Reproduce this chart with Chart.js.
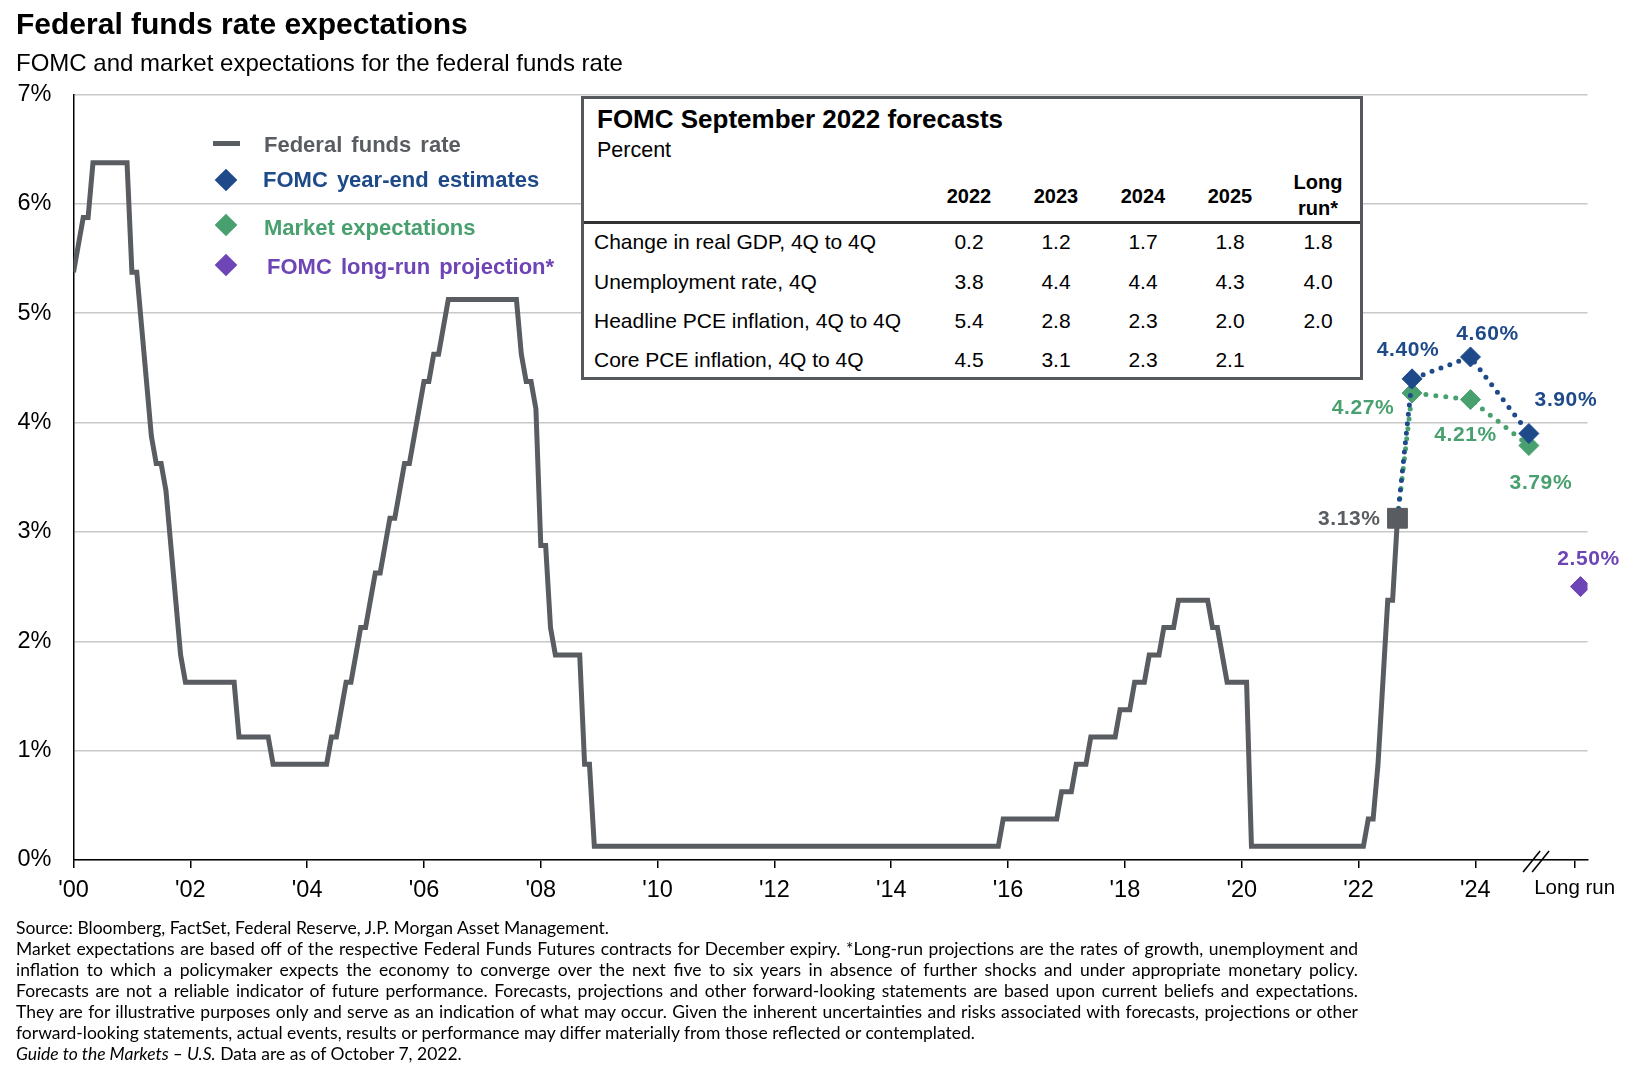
<!DOCTYPE html>
<html>
<head>
<meta charset="utf-8">
<script src="https://cdn.jsdelivr.net/npm/chart.js@4.4.1/dist/chart.umd.min.js"></script>
<style>
  body { margin: 0; background: #fff; font-family: "Liberation Sans", Arial, sans-serif; }
  #wrap { position: relative; width: 1638px; height: 1076px; overflow: hidden; }
  canvas { position: absolute; left: 0; top: 0; }
  .t { position: absolute; white-space: nowrap; }
  .leg { position: absolute; white-space: nowrap; font-weight: bold; font-size: 22px; line-height: 22px; word-spacing: 3px; }
  .dia { position: absolute; width: 16px; height: 16px; transform: rotate(45deg); }
  #table { position: absolute; left: 581px; top: 96px; width: 776px; height: 278px; border: 3px solid #55595d; background: #fff; }
  #table .t { color: #000; }
  .hd { font-weight: bold; font-size: 20px; line-height: 20px; text-align: center; width: 80px; }
  .rl { font-size: 21px; line-height: 21px; }
  .v { font-size: 21px; line-height: 21px; text-align: center; width: 60px; }
  .fn { position: absolute; left: 16px; font-family: Lato, "Liberation Sans", sans-serif; font-size: 17.5px; line-height: 21px; white-space: nowrap; color: #000; }
  .just { width: 1342px; text-align: justify; text-align-last: justify; word-spacing: -1.5px; }
</style>
</head>
<body>
<div id="wrap">
  <canvas id="chart" width="1638" height="1076"></canvas>

  <div class="t" style="left:16px;top:9px;font-size:30px;line-height:30px;font-weight:bold;">Federal funds rate expectations</div>
  <div class="t" style="left:16px;top:51px;font-size:24px;line-height:24px;">FOMC and market expectations for the federal funds rate</div>

  <!-- legend -->
  <div style="position:absolute;left:213px;top:141px;width:27px;height:5px;background:#595c60;"></div>
  <div class="leg" style="left:264px;top:134px;color:#595c60;">Federal funds rate</div>
  <div class="dia" style="left:218px;top:172px;background:#1e4a8a;"></div>
  <div class="leg" style="left:263px;top:169px;color:#1e4a8a;">FOMC year-end estimates</div>
  <div class="dia" style="left:218px;top:217px;background:#48a06f;"></div>
  <div class="leg" style="left:264px;top:217px;color:#48a06f;word-spacing:0;">Market expectations</div>
  <div class="dia" style="left:218px;top:257px;background:#6d45b6;"></div>
  <div class="leg" style="left:267px;top:256px;color:#6d45b6;">FOMC long-run projection*</div>

  <!-- forecast table -->
  <div id="table"></div>

  <!-- footnotes -->
  <div class="fn" style="top:917px;">Source: Bloomberg, FactSet, Federal Reserve, J.P. Morgan Asset Management.</div>
  <div class="fn just" style="top:938px;">Market expectations are based off of the respective Federal Funds Futures contracts for December expiry. *Long-run projections are the rates of growth, unemployment and</div>
  <div class="fn just" style="top:959px;">inflation to which a policymaker expects the economy to converge over the next five to six years in absence of further shocks and under appropriate monetary policy.</div>
  <div class="fn just" style="top:980px;">Forecasts are not a reliable indicator of future performance. Forecasts, projections and other forward-looking statements are based upon current beliefs and expectations.</div>
  <div class="fn just" style="top:1001px;">They are for illustrative purposes only and serve as an indication of what may occur. Given the inherent uncertainties and risks associated with forecasts, projections or other</div>
  <div class="fn" style="top:1022px;">forward-looking statements, actual events, results or performance may differ materially from those reflected or contemplated.</div>
  <div class="fn" style="top:1043px;"><i>Guide to the Markets – U.S.</i> Data are as of October 7, 2022.</div>
</div>

<script>
// Federal funds rate, monthly from Jan 2000 to Sep 2022 (%)
const fedFundsStart = 2000;
const fedFunds = [
  5.375, 5.625, 5.875, 5.875, 6.375, 6.375, 6.375, 6.375, 6.375, 6.375, 6.375, 6.375, // 2000
  5.375, 5.375, 4.875, 4.375, 3.875, 3.625, 3.625, 3.375, 2.875, 2.375, 1.875, 1.625, // 2001
  1.625, 1.625, 1.625, 1.625, 1.625, 1.625, 1.625, 1.625, 1.625, 1.625, 1.125, 1.125, // 2002
  1.125, 1.125, 1.125, 1.125, 1.125, 0.875, 0.875, 0.875, 0.875, 0.875, 0.875, 0.875, // 2003
  0.875, 0.875, 0.875, 0.875, 0.875, 1.125, 1.125, 1.375, 1.625, 1.625, 1.875, 2.125, // 2004
  2.125, 2.375, 2.625, 2.625, 2.875, 3.125, 3.125, 3.375, 3.625, 3.625, 3.875, 4.125, // 2005
  4.375, 4.375, 4.625, 4.625, 4.875, 5.125, 5.125, 5.125, 5.125, 5.125, 5.125, 5.125, // 2006
  5.125, 5.125, 5.125, 5.125, 5.125, 5.125, 5.125, 5.125, 4.625, 4.375, 4.375, 4.125, // 2007
  2.875, 2.875, 2.125, 1.875, 1.875, 1.875, 1.875, 1.875, 1.875, 0.875, 0.875, 0.125, // 2008
  0.125, 0.125, 0.125, 0.125, 0.125, 0.125, 0.125, 0.125, 0.125, 0.125, 0.125, 0.125, // 2009
  0.125, 0.125, 0.125, 0.125, 0.125, 0.125, 0.125, 0.125, 0.125, 0.125, 0.125, 0.125, // 2010
  0.125, 0.125, 0.125, 0.125, 0.125, 0.125, 0.125, 0.125, 0.125, 0.125, 0.125, 0.125, // 2011
  0.125, 0.125, 0.125, 0.125, 0.125, 0.125, 0.125, 0.125, 0.125, 0.125, 0.125, 0.125, // 2012
  0.125, 0.125, 0.125, 0.125, 0.125, 0.125, 0.125, 0.125, 0.125, 0.125, 0.125, 0.125, // 2013
  0.125, 0.125, 0.125, 0.125, 0.125, 0.125, 0.125, 0.125, 0.125, 0.125, 0.125, 0.125, // 2014
  0.125, 0.125, 0.125, 0.125, 0.125, 0.125, 0.125, 0.125, 0.125, 0.125, 0.125, 0.375, // 2015
  0.375, 0.375, 0.375, 0.375, 0.375, 0.375, 0.375, 0.375, 0.375, 0.375, 0.375, 0.625, // 2016
  0.625, 0.625, 0.875, 0.875, 0.875, 1.125, 1.125, 1.125, 1.125, 1.125, 1.125, 1.375, // 2017
  1.375, 1.375, 1.625, 1.625, 1.625, 1.875, 1.875, 1.875, 2.125, 2.125, 2.125, 2.375, // 2018
  2.375, 2.375, 2.375, 2.375, 2.375, 2.375, 2.125, 2.125, 1.875, 1.625, 1.625, 1.625, // 2019
  1.625, 1.625, 0.125, 0.125, 0.125, 0.125, 0.125, 0.125, 0.125, 0.125, 0.125, 0.125, // 2020
  0.125, 0.125, 0.125, 0.125, 0.125, 0.125, 0.125, 0.125, 0.125, 0.125, 0.125, 0.125, // 2021
  0.125, 0.125, 0.375, 0.375, 0.875, 1.625, 2.375, 2.375, 3.125                        // 2022
];

// projections (year-end)
const projYears = [2022, 2023, 2024];
const fomcYearEnd = [4.40, 4.60, 3.90];
const marketExp = [4.27, 4.21, 3.79];
const fomcLongRun = 2.50;

// x axis
const xTickYears = [2000, 2002, 2004, 2006, 2008, 2010, 2012, 2014, 2016, 2018, 2020, 2022, 2024];
const longRunTick = 2025.7;
const longRunX = 2025.8;
const breakX = 2025.04;
const yTicks = [0, 1, 2, 3, 4, 5, 6, 7];

// FOMC table
const tableCols = ['2022', '2023', '2024', '2025', 'Long\nrun*'];
const tableRows = ['Change in real GDP, 4Q to 4Q', 'Unemployment rate, 4Q', 'Headline PCE inflation, 4Q to 4Q', 'Core PCE inflation, 4Q to 4Q'];
const tableVals = [
  ['0.2', '1.2', '1.7', '1.8', '1.8'],
  ['3.8', '4.4', '4.4', '4.3', '4.0'],
  ['5.4', '2.8', '2.3', '2.0', '2.0'],
  ['4.5', '3.1', '2.3', '2.1', '']
];

// build table
(function () {
  const tb = document.getElementById('table');
  const L = 581 + 3, T = 96 + 3; // inner origin
  let html = '';
  html += `<div class="t" style="left:${597 - L}px;top:${106 - T}px;font-size:26px;line-height:26px;font-weight:bold;">FOMC September 2022 forecasts</div>`;
  html += `<div class="t" style="left:${597 - L}px;top:${139 - T}px;font-size:21.5px;line-height:22px;">Percent</div>`;
  const colX = [969, 1056, 1143, 1230, 1318];
  tableCols.forEach((c, i) => {
    const parts = c.split('\n');
    if (parts.length === 1) {
      html += `<div class="t hd" style="left:${colX[i] - 40 - L}px;top:${186 - T}px;">${c}</div>`;
    } else {
      html += `<div class="t hd" style="left:${colX[i] - 40 - L}px;top:${172 - T}px;">${parts[0]}</div>`;
      html += `<div class="t hd" style="left:${colX[i] - 40 - L}px;top:${198 - T}px;">${parts[1]}</div>`;
    }
  });
  html += `<div style="position:absolute;left:0;top:${221 - T}px;width:100%;height:2.5px;background:#333;"></div>`;
  const rowY = [242, 281.5, 320.5, 359.5];
  tableRows.forEach((r, j) => {
    html += `<div class="t rl" style="left:${594 - L}px;top:${rowY[j] - 11 - T}px;">${r}</div>`;
    tableVals[j].forEach((v, i) => {
      html += `<div class="t v" style="left:${colX[i] - 30 - L}px;top:${rowY[j] - 11 - T}px;">${v}</div>`;
    });
  });
  tb.innerHTML = html;
})();

const FONT = '"Liberation Sans", Arial, sans-serif';
const GRAY = '#595c60', BLUE = '#1e4a8a', GREEN = '#48a06f', PURPLE = '#6d45b6';

const fedPoints = fedFunds.map((v, i) => ({ x: fedFundsStart + i / 12, y: v }));
const lastPoint = fedPoints[fedPoints.length - 1];
const fomcPoints = [lastPoint].concat(projYears.map((yr, i) => ({ x: yr + 11 / 12, y: fomcYearEnd[i] })));
const marketPoints = [lastPoint].concat(projYears.map((yr, i) => ({ x: yr + 11 / 12, y: marketExp[i] })));

// value labels next to markers
const pointLabels = {
  id: 'pointLabels',
  afterDatasetsDraw(chart) {
    const ctx = chart.ctx;
    chart.data.datasets.forEach((ds, i) => {
      if (!ds.labelOffsets) return;
      const meta = chart.getDatasetMeta(i);
      ctx.save();
      ctx.font = 'bold 21px ' + FONT;
      ctx.letterSpacing = '0.6px';
      ctx.fillStyle = ds.labelColor;
      ctx.textBaseline = 'middle';
      ds.labelOffsets.forEach((off, j) => {
        if (!off) return;
        const el = meta.data[j];
        ctx.textAlign = off[2] || 'center';
        ctx.fillText(ds.data[j].y.toFixed(2) + '%', el.x + off[0], el.y + off[1]);
      });
      ctx.restore();
    });
  }
};

// "//" break marks on the x axis
const axisBreak = {
  id: 'axisBreak',
  afterDraw(chart) {
    const ctx = chart.ctx;
    const px = chart.scales.x.getPixelForValue(breakX);
    const py = chart.chartArea.bottom + 1;
    ctx.save();
    ctx.strokeStyle = '#000';
    ctx.lineWidth = 1.6;
    [-4.5, 4.5].forEach(dx => {
      ctx.beginPath();
      ctx.moveTo(px + dx - 8.5, py + 11);
      ctx.lineTo(px + dx + 8.5, py - 10);
      ctx.stroke();
    });
    ctx.restore();
  }
};

new Chart(document.getElementById('chart'), {
  type: 'line',
  data: {
    datasets: [
      {
        label: 'Current',
        data: [lastPoint],
        showLine: false,
        pointStyle: 'rect',
        pointRadius: 14,
        pointBackgroundColor: GRAY,
        pointBorderColor: GRAY,
        labelColor: GRAY,
        labelOffsets: [[-17, 1, 'right']],
        order: 0
      },
      {
        label: 'FOMC year-end estimates',
        data: fomcPoints,
        borderColor: BLUE,
        borderWidth: 5,
        borderDash: [0, 9.5],
        borderCapStyle: 'round',
        pointStyle: 'rectRot',
        pointRadius: [0, 10, 10, 10],
        pointBackgroundColor: BLUE,
        pointBorderColor: BLUE,
        pointBorderWidth: 1,
        labelColor: BLUE,
        labelOffsets: [null, [-4, -29], [17, -23], [37, -33]],
        order: 1
      },
      {
        label: 'Market expectations',
        data: marketPoints,
        borderColor: GREEN,
        borderWidth: 5,
        borderDash: [0, 10],
        borderCapStyle: 'round',
        pointStyle: 'rectRot',
        pointRadius: [0, 10, 10, 10],
        pointBackgroundColor: GREEN,
        pointBorderColor: GREEN,
        pointBorderWidth: 1,
        labelColor: GREEN,
        labelOffsets: [null, [-49, 15], [-5, 36], [12, 38]],
        order: 2
      },
      {
        label: 'FOMC long-run projection*',
        data: [{ x: longRunX, y: fomcLongRun }],
        showLine: false,
        pointStyle: 'rectRot',
        pointRadius: 10,
        pointBackgroundColor: PURPLE,
        pointBorderColor: PURPLE,
        labelColor: PURPLE,
        labelOffsets: [[8, -27]],
        order: 3
      },
      {
        label: 'Federal funds rate',
        data: fedPoints,
        borderColor: GRAY,
        borderWidth: 5,
        borderJoinStyle: 'miter',
        pointRadius: 0,
        tension: 0,
        order: 4
      }
    ]
  },
  options: {
    responsive: false,
    animation: false,
    layout: { padding: { top: 94.5, right: 50.5, left: 0, bottom: 0 } },
    plugins: { legend: { display: false }, tooltip: { enabled: false } },
    scales: {
      x: {
        type: 'linear',
        min: 2000,
        max: 2025.92,
        afterFit: (s) => { s.height = 216; },
        afterBuildTicks: (s) => { s.ticks = xTickYears.concat([longRunTick]).map(v => ({ value: v })); },
        grid: { drawOnChartArea: false, drawTicks: true, tickLength: 8, tickColor: '#000', lineWidth: 1.5 },
        border: { color: '#000', width: 1.5 },
        ticks: {
          autoSkip: false,
          maxRotation: 0,
          padding: 8,
          color: '#000',
          font: (c) => ({ family: FONT, size: c.tick && c.tick.value === longRunTick ? 20.5 : 23.5 }),
          callback: (v) => v === longRunTick ? 'Long run' : "'" + String(v).slice(2)
        }
      },
      y: {
        min: 0,
        max: 7,
        afterFit: (s) => { s.width = 73.5; },
        afterBuildTicks: (s) => { s.ticks = yTicks.map(v => ({ value: v })); },
        grid: { color: '#c8c8c8', lineWidth: 1.5, drawTicks: false },
        border: { color: '#000', width: 1.5 },
        ticks: {
          padding: 22,
          color: '#000',
          font: { family: FONT, size: 23.5 },
          callback: (v) => v + '%'
        }
      }
    }
  },
  plugins: [pointLabels, axisBreak]
});
</script>
</body>
</html>
